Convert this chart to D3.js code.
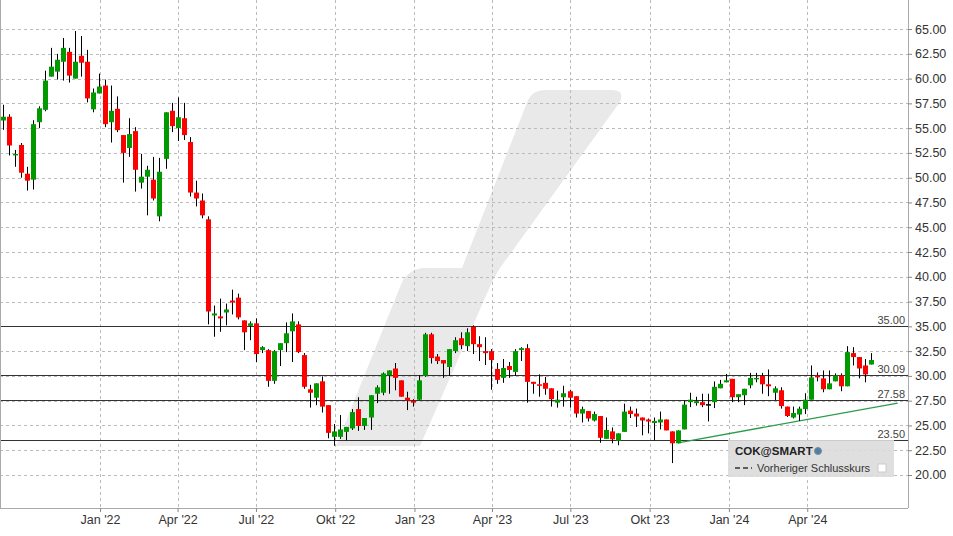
<!DOCTYPE html>
<html><head><meta charset="utf-8">
<script src="https://cdn.jsdelivr.net/npm/d3@7"></script>
<style>body{margin:0;background:#fff}svg{display:block;font-family:"Liberation Sans",Arial,sans-serif}</style>
</head><body><svg id="c" width="953" height="536"></svg>
<script>
const firstWeek = "2021-09-10";
const opens = [55.77,56.15,52.3,53.3,50.4,49.8,55.6,56.85,60.2,60.7,61.7,62.7,60.0,62.3,61.7,56.9,58.5,59.3,55.6,56.95,54.3,53.0,54.7,49.5,50.1,49.8,46.1,51.9,56.75,55.0,56.0,53.6,48.5,47.7,45.8,36.1,36.0,36.4,37.6,37.9,35.6,35.05,35.3,32.6,32.6,29.5,32.6,33.3,34.5,35.2,32.1,28.65,27.8,29.45,27.05,23.85,23.85,24.35,24.7,26.65,24.95,25.8,28.2,28.3,30.05,30.75,29.55,27.8,27.5,27.6,30.0,34.2,31.95,31.6,30.9,32.5,33.8,33.0,34.95,33.2,32.5,32.5,30.7,29.8,31.0,30.4,32.6,32.8,29.4,29.15,29.3,28.75,27.3,27.85,28.45,27.95,26.2,26.45,25.5,25.95,23.65,24.4,23.45,24.35,26.5,26.2,25.8,25.6,25.25,25.3,25.6,24.4,23.2,24.6,27.35,27.25,27.35,27.15,27.35,28.75,29.35,29.7,27.85,28.05,29.05,29.65,30.0,29.15,28.3,28.55,26.9,25.8,26.1,26.65,27.6,30.05,29.75,28.65,29.45,30.05,28.95,32.3,31.9,31.05,31.15];
const highs = [57.36,56.4,52.8,53.5,51.1,55.8,57.2,60.8,63.1,62.5,64.1,63.1,64.8,64.3,62.9,59.0,60.5,59.9,59.3,58.2,54.3,56.0,55.1,52.4,51.2,52.1,52.0,56.6,57.55,58.1,57.55,54.1,49.7,48.4,46.1,37.1,37.8,37.3,38.7,38.3,35.6,35.5,35.8,33.0,32.7,32.6,33.3,35.4,36.3,35.5,32.3,29.1,29.25,29.95,27.05,25.15,26.05,24.85,26.65,27.85,25.75,28.05,29.05,30.35,30.55,31.3,29.55,28.4,27.65,30.05,34.35,34.35,32.2,31.6,32.7,33.9,34.4,34.8,35.1,34.0,33.9,32.7,31.3,31.7,31.4,32.7,32.9,33.2,29.4,30.15,29.9,28.75,28.5,29.0,28.6,27.95,26.9,26.45,26.4,25.95,25.8,24.8,24.2,27.2,26.9,26.7,25.8,25.7,25.8,26.4,25.6,24.4,24.5,27.5,28.3,27.9,28.2,28.2,29.45,29.6,30.2,29.7,28.15,28.7,30.3,30.3,30.3,30.65,28.95,28.85,26.9,26.9,26.9,28.25,31.05,30.35,30.55,30.55,30.25,30.25,33.0,32.9,31.9,31.7,32.3];
const lows = [54.83,52.24,51.1,50.0,48.7,48.8,55.0,56.7,60.2,59.9,59.8,59.6,60.0,60.2,57.6,56.6,58.5,55.1,53.55,54.6,49.5,52.1,48.6,48.9,46.2,47.7,45.6,50.9,54.6,53.7,53.8,48.1,47.1,45.9,35.2,33.95,34.45,35.1,36.2,35.7,32.6,33.6,31.4,32.3,28.9,29.2,31.0,32.4,31.4,32.3,28.7,26.8,27.05,26.3,23.7,22.95,23.65,23.5,24.55,24.45,24.55,24.55,27.25,28.05,28.2,28.55,27.9,26.55,26.9,27.55,29.9,31.25,31.2,29.8,30.0,32.3,32.7,32.5,32.2,31.5,31.1,28.6,29.2,29.3,29.8,30.0,31.5,27.3,28.2,27.9,28.1,26.9,26.8,26.9,26.8,25.8,25.3,25.4,25.4,23.25,23.65,23.2,23.0,24.35,25.75,24.85,24.0,24.2,23.5,24.6,24.5,21.2,23.2,24.6,26.85,27.0,26.85,25.4,26.75,28.75,29.35,27.35,27.35,27.05,28.75,29.35,28.2,27.95,27.55,26.7,25.85,25.7,25.45,26.15,27.6,29.45,28.35,28.65,29.45,28.45,28.95,31.05,29.75,29.35,31.15];
const closes = [56.15,53.25,52.4,50.5,49.7,55.4,57.0,59.8,61.2,61.9,63.1,60.3,61.7,61.6,58.0,58.6,59.2,55.4,56.75,54.8,52.5,54.4,50.8,50.1,50.8,47.9,50.6,56.6,55.2,56.1,54.3,48.5,47.9,46.2,36.5,36.3,35.8,36.7,37.4,35.9,34.4,35.3,32.2,32.9,29.5,32.5,33.3,34.3,35.5,32.4,28.9,28.3,29.25,26.9,24.25,24.4,24.6,24.85,26.35,24.95,25.75,28.05,28.85,30.25,30.55,29.8,27.9,27.5,27.3,29.55,34.2,31.8,31.5,31.25,32.7,33.6,33.1,34.4,33.2,32.9,32.3,31.6,29.6,30.8,30.6,32.5,32.8,29.4,29.2,29.0,28.7,27.65,27.6,28.25,27.8,26.2,26.65,25.7,26.15,23.75,24.55,23.6,24.2,26.4,26.15,25.9,25.5,25.4,25.45,25.6,24.5,23.2,24.5,27.1,27.6,27.45,27.05,27.15,28.9,29.2,29.55,27.85,28.15,28.7,29.8,29.8,29.15,28.95,28.75,26.95,25.95,26.25,26.7,27.6,29.85,29.85,28.65,29.25,30.05,28.95,32.4,31.9,30.75,30.15,31.6];
const yTicks = [20,22.5,25,27.5,30,32.5,35,37.5,40,42.5,45,47.5,50,52.5,55,57.5,60,62.5,65];
const levels = [35.00,30.09,27.58,23.50];
const monthNames = ["Jan","Feb","Mär","Apr","Mai","Jun","Jul","Aug","Sep","Okt","Nov","Dez"];
const trendStart = {week:112, price:23.25};
const trendEnd = {date:"2024-07-15", price:27.25};

const W=953,H=536,plotR=908,plotB=508;
const svg=d3.select("#c");
const start=new Date(firstWeek+"T00:00:00");
const dates=opens.map((_,i)=>d3.timeDay.offset(start,7*i));
const x=d3.scaleTime().domain([dates[0],dates[dates.length-1]]).range([2.7,871]);
const y=d3.scaleLinear().domain([16.67,67.93]).range([plotB,0]);

const wm=svg.append("g").attr("fill","#e9e9e9");
wm.append("path").attr("d","M336,446 L402,282 Q410,268 425,268 L462,268 L528,100 Q533,90 545,90 L612,90 Q625,90 620,102 L500,268 L492,282 L420,446 Z");

const g=svg.append("g");
yTicks.forEach(t=>g.append("line").attr("x1",0).attr("x2",plotR).attr("y1",Math.round(y(t))+0.5).attr("y2",Math.round(y(t))+0.5).attr("stroke","#bbb").attr("stroke-dasharray","3,3"));
const xt=d3.timeMonth.every(3).range(new Date("2022-01-01T00:00:00"),new Date("2024-06-01T00:00:00"));
xt.forEach(t=>g.append("line").attr("x1",Math.round(x(t))+0.5).attr("x2",Math.round(x(t))+0.5).attr("y1",0).attr("y2",plotB).attr("stroke","#bbb").attr("stroke-dasharray","3,3"));

levels.forEach(l=>{
  const yy=Math.round(y(l))+0.5;
  g.append("line").attr("x1",0).attr("x2",plotR).attr("y1",yy).attr("y2",yy).attr("stroke","#333").attr("stroke-width",1);
  g.append("text").attr("x",905).attr("y",yy-3).attr("text-anchor","end").attr("font-size",11).attr("fill","#444").text(l.toFixed(2));
});

g.append("line").attr("x1",x(dates[trendStart.week])).attr("y1",y(trendStart.price))
 .attr("x2",x(new Date(trendEnd.date+"T00:00:00"))).attr("y2",y(trendEnd.price)).attr("stroke","#2a9d4a").attr("stroke-width",1.3);

const cg=svg.append("g");
dates.forEach((d,i)=>{
  const o=opens[i],c=closes[i],h=highs[i],l=lows[i];
  const cx=Math.round(x(d))+0.5;
  cg.append("line").attr("x1",cx).attr("x2",cx).attr("y1",y(h)).attr("y2",y(l)).attr("stroke","#000").attr("stroke-width",1);
  const col=c>o?"#009900":(c<o?"#ff0000":"#000");
  const top=y(Math.max(o,c)),bot=y(Math.min(o,c));
  cg.append("rect").attr("x",cx-2.5).attr("width",5).attr("y",top).attr("height",Math.max(1.5,bot-top)).attr("fill",col);
});

const lg=svg.append("g");
lg.append("rect").attr("x",728).attr("y",440).attr("width",166).attr("height",37).attr("fill","#dcdcdc").attr("opacity",0.9);
lg.append("text").attr("x",735).attr("y",455).attr("font-size",11.5).attr("font-weight","bold").attr("fill","#222").text("COK@SMART");
lg.append("circle").attr("cx",818).attr("cy",451).attr("r",3.5).attr("fill","#4a7fb0").attr("stroke","#888");
lg.append("line").attr("x1",735).attr("x2",752).attr("y1",468).attr("y2",468).attr("stroke","#333").attr("stroke-width",1.5).attr("stroke-dasharray","5,3");
lg.append("text").attr("x",757).attr("y",472).attr("font-size",11).attr("fill","#333").text("Vorheriger Schlusskurs");
lg.append("rect").attr("x",878).attr("y",464).attr("width",8).attr("height",8).attr("fill","#fff").attr("stroke","#ccc");

svg.append("line").attr("x1",0.5).attr("x2",0.5).attr("y1",0).attr("y2",plotB).attr("stroke","#aaa");
svg.append("line").attr("x1",0).attr("x2",plotR).attr("y1",plotB+0.5).attr("y2",plotB+0.5).attr("stroke","#aaa");
svg.append("line").attr("x1",plotR+0.5).attr("x2",plotR+0.5).attr("y1",0).attr("y2",plotB).attr("stroke","#aaa");
const ya=svg.append("g").attr("transform",`translate(${plotR},0)`)
 .call(d3.axisRight(y).tickValues(yTicks).tickSize(4).tickFormat(d3.format(".2f")));
ya.select(".domain").remove();
ya.selectAll("text").attr("font-size",12.5).attr("fill","#333").attr("font-family","Liberation Sans, Arial");
ya.selectAll("line").attr("stroke","#888");
const xa=svg.append("g").attr("transform",`translate(0,${plotB})`)
 .call(d3.axisBottom(x).tickValues(xt).tickSize(4).tickFormat(d=>monthNames[d.getMonth()]+" '"+String(d.getFullYear()).slice(2)));
xa.select(".domain").remove();
xa.selectAll("text").attr("font-size",12.5).attr("fill","#333").attr("font-family","Liberation Sans, Arial");
xa.selectAll("line").attr("stroke","#888");
</script></body></html>
